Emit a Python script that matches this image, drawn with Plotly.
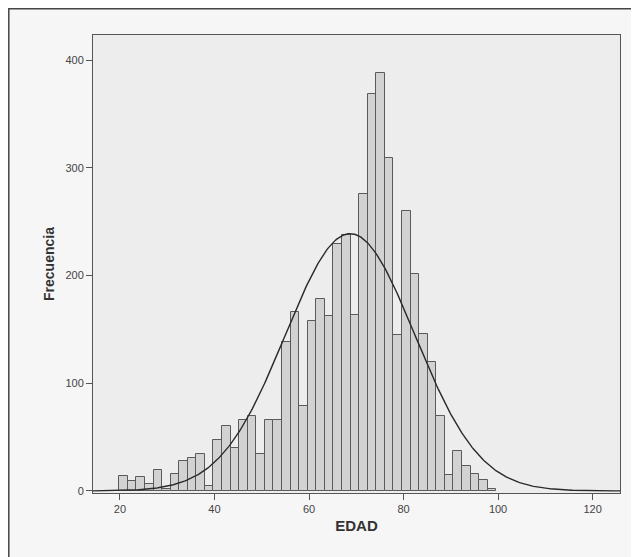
import plotly.graph_objects as go
import math

# Histogram bins (EDAD)
bin_start = 19.85
bin_width = 1.813
frecuencia = [14, 9, 13, 6, 19, 2, 16, 28, 31, 34, 5, 47, 60, 40, 66, 70, 34, 66, 66,
              138, 166, 79, 158, 178, 162, 229, 238, 163, 276, 368, 388, 309, 145,
              260, 201, 146, 120, 70, 15, 37, 23, 16, 10, 2]
centers = [bin_start + bin_width * (i + 0.5) for i in range(len(frecuencia))]

# Normal curve parameters
media = 68.7
desv = 13.7
x_tick_vals = [20, 40, 60, 80, 100, 120]
y_tick_vals = [0, 100, 200, 300, 400]

n_total = sum(frecuencia)
curve_x = [14.3 + i * 0.25 for i in range(int((125.8 - 14.3) / 0.25) + 1)]
curve_y = [n_total * bin_width / (desv * math.sqrt(2 * math.pi)) *
           math.exp(-0.5 * ((x - media) / desv) ** 2) for x in curve_x]

fig = go.Figure()
fig.add_trace(go.Bar(x=centers, y=frecuencia, width=bin_width,
                     marker=dict(color="#d2d2d2", line=dict(color="#5a5a5a", width=1)),
                     hoverinfo="x+y"))
fig.add_trace(go.Scatter(x=curve_x, y=curve_y, mode="lines",
                         line=dict(color="#2a2a2a", width=1.4), hoverinfo="skip"))

fig.update_layout(
    width=639, height=557,
    margin=dict(l=85, r=27, t=27, b=72),
    paper_bgcolor="#f6f6f6",
    plot_bgcolor="#ededed",
    showlegend=False,
    bargap=0,
    font=dict(family="Liberation Sans, Arial, sans-serif", color="#333333"),
    xaxis=dict(range=[14.3, 125.8], tickvals=x_tick_vals, ticks="outside", ticklen=6,
               tickcolor="#555555", showline=True, linecolor="#555555", mirror=True,
               showgrid=False, zeroline=False, tickfont=dict(size=11, color="#444444"),
               title=dict(text="<b>EDAD</b>", font=dict(size=15, color="#333333"), standoff=6)),
    yaxis=dict(range=[-1.9, 423.2], tickvals=y_tick_vals, ticks="outside", ticklen=6,
               tickcolor="#555555", showline=True, linecolor="#555555", mirror=True,
               showgrid=False, zeroline=False, tickfont=dict(size=11, color="#444444"),
               title=dict(text="<b>Frecuencia</b>", font=dict(size=14, color="#333333"), standoff=7)),
    shapes=[dict(type="rect", xref="paper", yref="paper",
                 x0=-84.2 / 527, y0=-0.3, x1=1.2, y1=1 + 26.2 / 458,
                 line=dict(color="#444444", width=1.5), layer="above")],
)
fig.write_html("out.html")
